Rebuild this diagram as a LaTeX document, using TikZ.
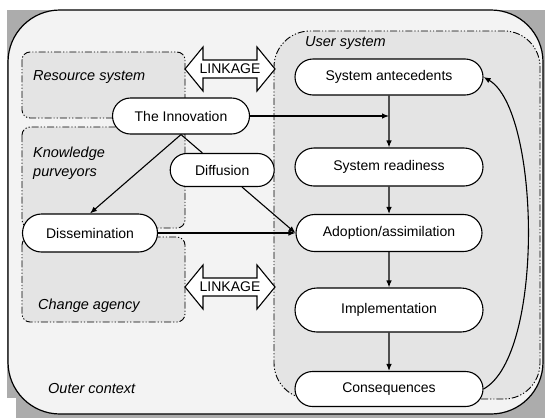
\documentclass[tikz,border=0pt]{standalone}
\usepackage{fontspec}
\setmainfont{Liberation Sans}
\usetikzlibrary{shapes.misc,arrows.meta,calc}
\definecolor{shadowgray}{HTML}{ACACAC}
\definecolor{outerfill}{HTML}{F3F3F3}
\definecolor{panelfill}{HTML}{E4E4E4}
\begin{document}
\begin{tikzpicture}[x=1pt,y=-1pt,
  stage/.style={draw,line width=1.1pt,fill=white,rounded rectangle,minimum height=36pt,inner sep=0pt,font=\fontsize{14}{16}\selectfont},
  lbl/.style={anchor=west,font=\fontsize{14.5}{19}\selectfont\itshape,inner sep=0pt,align=left},
  ddot/.style={line width=0.9pt,dash pattern=on 7pt off 2pt on 1.2pt off 2pt on 1.2pt off 2pt},
  arr/.style={line width=1.1pt,-{Latex[length=7pt,width=5.5pt]}},
  ln/.style={line width=1.1pt},
  linkbox/.style={line width=1.1pt,fill=white},
  linktext/.style={font=\fontsize{14}{16}\selectfont,inner sep=0pt}
]
\useasboundingbox (0,0) rectangle (545,418);
% background and outer context
\fill[shadowgray] (7,10) rectangle (545,418);
\fill[white] (0,398) rectangle (16,418);
\draw[line width=1.2pt,fill=outerfill,rounded corners=52pt] (8,10) rectangle (543,414);
% panels
\draw[ddot,fill=panelfill,rounded corners=8pt] (22,52) rectangle (185,118);
\draw[ddot,fill=panelfill,rounded corners=8pt] (22,127) rectangle (185,228);
\draw[ddot,fill=panelfill,rounded corners=8pt] (22,237) rectangle (185,322);
\draw[ddot,fill=panelfill,rounded corners=36pt] (274,31) rectangle (540,399);
% labels
\node[lbl] (rs) at (33,77) {Resource system};
\node[lbl] (kp) at (33,163) {Knowledge\\purveyors};
\node[lbl] (ca) at (38,306) {Change agency};
\node[lbl] (oc) at (48,388) {Outer context};
\node[lbl] (us) at (305,43) {User system};
% linkage arrows
\draw[linkbox] (185,69) -- ++(18,-22) -- ++(0,13) -- ++(54,0) -- ++(0,-13) -- ++(18,22) -- ++(-18,22) -- ++(0,-13) -- ++(-54,0) -- ++(0,13) -- cycle;
\node[linktext] (link1) at (230,69) {LINKAGE};
\draw[linkbox] (185,287) -- ++(18,-22) -- ++(0,13) -- ++(54,0) -- ++(0,-13) -- ++(18,22) -- ++(-18,22) -- ++(0,-13) -- ++(-54,0) -- ++(0,13) -- cycle;
\node[linktext] (link2) at (230,287) {LINKAGE};
% stages
\node[stage,minimum width=137pt] (inn) at (181,116) {The Innovation};
\node[stage,minimum width=135pt,minimum height=38pt] (diss) at (90,233) {Dissemination};
\node[stage,minimum width=188pt] (ante) at (389,77) {System antecedents};
\node[stage,minimum width=188pt,minimum height=38pt] (ready) at (389,167) {System readiness};
\node[stage,minimum width=186pt,minimum height=37pt] (adopt) at (389,233) {Adoption/assimilation};
\node[stage,minimum width=188pt,minimum height=44pt] (impl) at (389,310) {Implementation};
\node[stage,minimum width=188pt,minimum height=35pt] (cons) at (389,389) {Consequences};
\node[stage,minimum width=104pt,minimum height=33pt] (diff) at ($(inn.south)!0.36!(adopt.west)$) {Diffusion};
% connectors
\coordinate (j) at (ante.south |- inn.east);
\draw[arr] (inn.east) -- (j);
\draw[arr] (ante) -- (ready);
\draw[arr] (ready) -- (adopt);
\draw[arr] (adopt) -- (impl);
\draw[arr] (impl) -- (cons);
\draw[arr] (inn.south) -- (diss.north);
\draw[ln] (inn.south) -- (diff);
\draw[arr] (diff) -- (adopt.west);
\draw[arr] (diss.east) -- (adopt.west);
\draw[arr] (cons.east) .. controls (545,355) and (540,110) .. (ante.east);
\end{tikzpicture}
\end{document}
